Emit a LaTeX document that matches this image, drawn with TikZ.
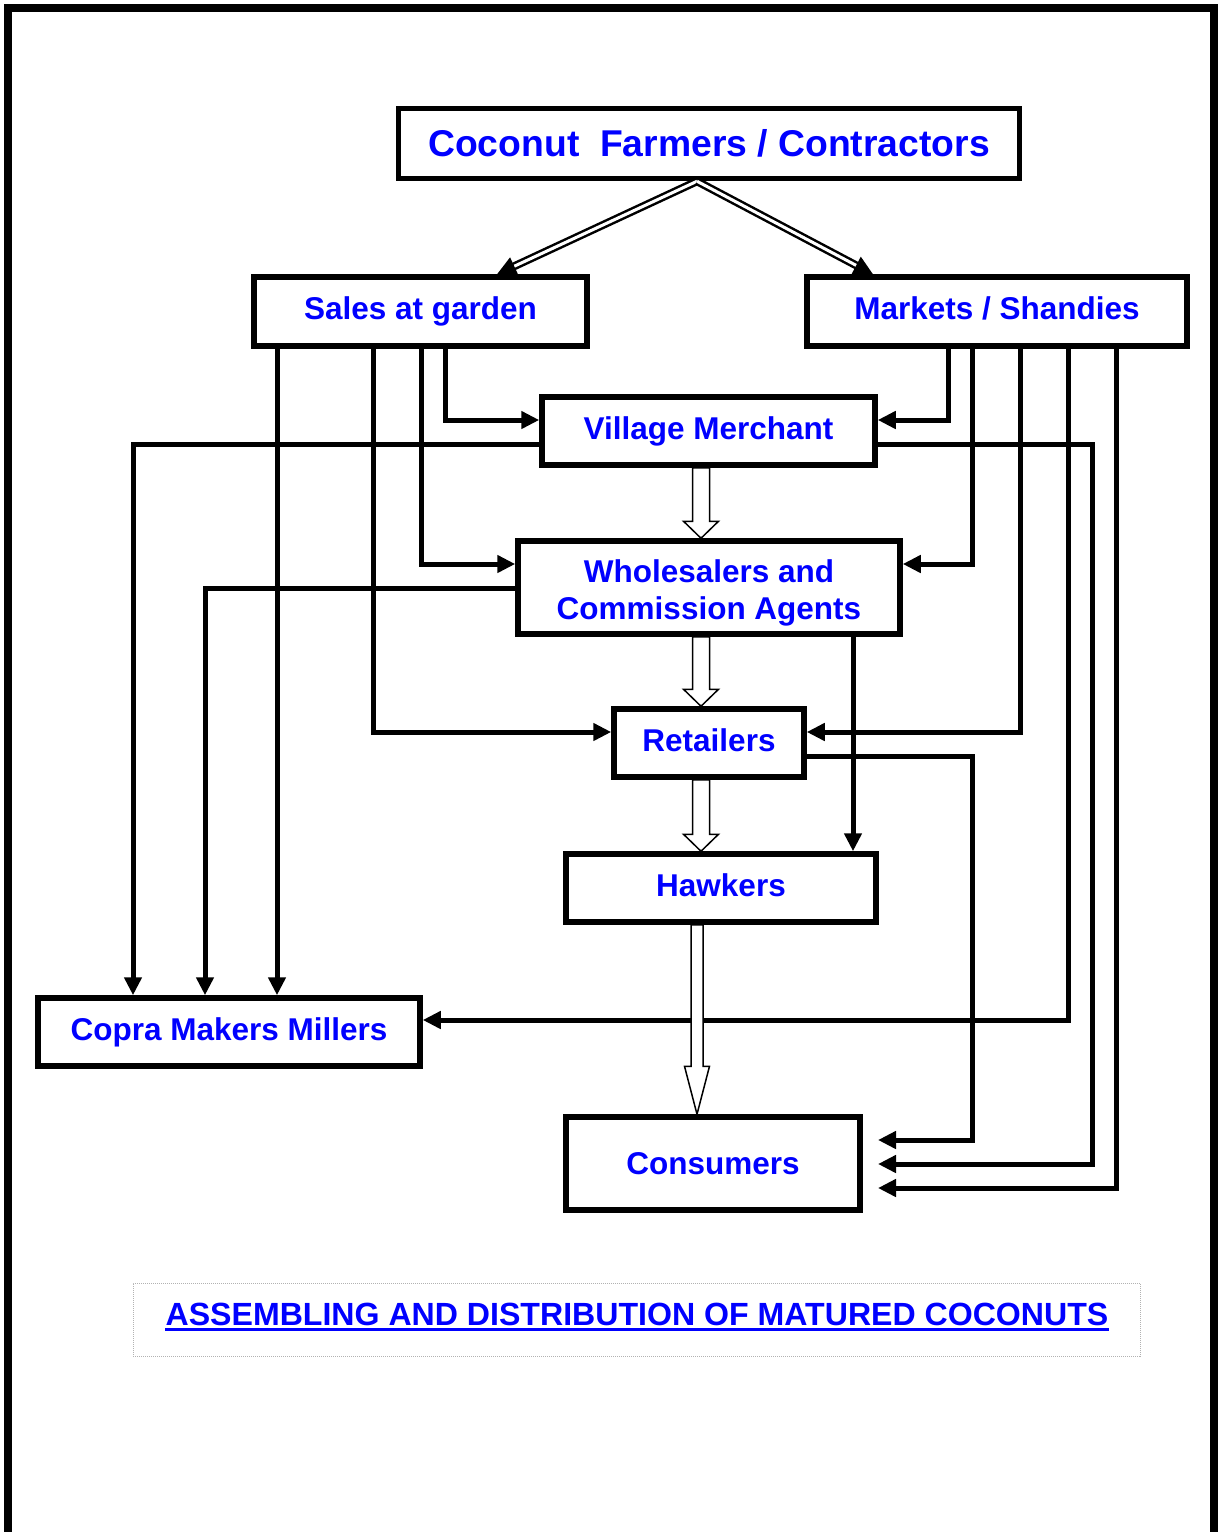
\documentclass[tikz,border=0pt]{standalone}
\usepackage{fontspec}
\setmainfont{Liberation Sans}
\usetikzlibrary{arrows.meta,calc}

\tikzset{
  box/.style={draw, line width=5.5pt, text=blue, align=center, inner sep=0pt,
    text height=22.5pt, text depth=6pt,
    font=\bfseries\fontsize{31.5}{37}\selectfont},
  link/.style={line width=5pt, -{Triangle[length=18pt,width=17pt]}},
  feed/.style={line width=2.5pt, double, double distance=3pt,
    -{Triangle[length=19pt,width=19pt]}},
  hollow/.style={draw=black, fill=white, line width=1.5pt, line join=miter},
  frame/.style={line width=8pt},
  capframe/.style={draw=gray!60, densely dotted, line width=1pt},
}

% hollow block arrow: start, tip, shaft half-width, head half-width, head length
\newcommand\hollowarrow[5]{%
  \draw[hollow] let \p1=(#1), \p2=(#2) in
    (\x1-#3pt,\y1) -- (\x1-#3pt,\y2+#5pt) -- (\x1-#4pt,\y2+#5pt) -- (\x1,\y2)
    -- (\x1+#4pt,\y2+#5pt) -- (\x1+#3pt,\y2+#5pt) -- (\x1+#3pt,\y1) -- cycle;}

\begin{document}
\begin{tikzpicture}[x=1pt,y=-1pt]
\useasboundingbox (0,0) rectangle (1218,1532);

% page frame, open at the bottom
\draw[frame] (8,1545) -- (8,8) -- (1214,8) -- (1214,1545);

% boxes
\node[box, minimum width=621pt, minimum height=70pt, text height=26.7pt, text depth=1pt,
      font=\bfseries\fontsize{37.3}{44}\selectfont] (farm) at (709,143.5)
      {Coconut\ \ Farmers / Contractors};
\node[box, minimum width=333pt, minimum height=69pt] (sales) at (420.5,311.5) {Sales at garden};
\node[box, minimum width=380pt, minimum height=69pt] (mkt) at (997,311.5) {Markets / Shandies};
\node[box, minimum width=333pt, minimum height=68pt] (vill) at (708.5,431) {Village Merchant};
\node[box, minimum width=382pt, minimum height=93pt, text height=69.6pt, text depth=6pt]
      (whol) at (709,587.5) {Wholesalers and\\Commission Agents};
\node[box, minimum width=190pt, minimum height=68pt] (ret) at (709,743) {Retailers};
\node[box, minimum width=310pt, minimum height=68pt] (hawk) at (721,888) {Hawkers};
\node[box, minimum width=382pt, minimum height=68pt] (copra) at (229,1032) {Copra Makers Millers};
\node[box, minimum width=294pt, minimum height=93pt, text depth=0pt] (cons) at (713,1163.5) {Consumers};

% free ends of the arrows pointing at Consumers
\coordinate (c1) at (878,1140);
\coordinate (c2) at (878,1164);
\coordinate (c3) at (878,1188);

% farmers to the two selling points
\draw[feed] (697,0 |- farm.south) -- (497,0 |- sales.north);
\draw[feed] (697,0 |- farm.south) -- (873,0 |- mkt.north);

% from Sales at garden
\draw[link] (277,0 |- sales.south) -- (277,0 |- copra.north);
\draw[link] (373,0 |- sales.south) |- (ret.west |- 0,732);
\draw[link] (421,0 |- sales.south) |- (whol.west |- 0,564);
\draw[link] (445,0 |- sales.south) |- (vill.west |- 0,420);

% from Markets / Shandies
\draw[link] (948,0 |- mkt.south) |- (vill.east |- 0,420);
\draw[link] (972,0 |- mkt.south) |- (whol.east |- 0,564);
\draw[link] (1020,0 |- mkt.south) |- (ret.east |- 0,732);
\draw[link] (1068,0 |- mkt.south) |- (copra.east |- 0,1020);
\draw[link] (1116,0 |- mkt.south) |- (c3);

% from Village Merchant
\draw[link] (vill.west |- 0,444) -| (133,0 |- copra.north);
\draw[link] (vill.east |- 0,444) -| (1092,1164) -- (c2);

% from Wholesalers
\draw[link] (whol.west |- 0,588) -| (205,0 |- copra.north);
\draw[link] (853,0 |- whol.south) -- (853,0 |- hawk.north);

% from Retailers
\draw[link] (ret.east |- 0,756) -| (972,1140) -- (c1);

% main chain of hollow arrows
\hollowarrow{701,0 |- vill.south}{701,0 |- whol.north}{8.5}{17.5}{17}
\hollowarrow{701,0 |- whol.south}{701,0 |- ret.north}{8.5}{17.5}{17}
\hollowarrow{701,0 |- ret.south}{701,0 |- hawk.north}{8.5}{17.5}{17}
\hollowarrow{697,0 |- hawk.south}{697,0 |- cons.north}{6}{12.5}{48}

% title
\node[capframe, minimum width=1007pt, minimum height=73pt] (capbox) at (636.5,1319.5) {};
\node[inner sep=0pt, anchor=base, text=blue,
      font=\bfseries\fontsize{32.1}{38}\selectfont] (cap) at (637,1325)
      {ASSEMBLING AND DISTRIBUTION OF MATURED COCONUTS};
\draw[blue, line width=3.5pt] ($(cap.base west)+(0,4.5)$) -- ($(cap.base east)+(0,4.5)$);
\end{tikzpicture}
\end{document}
